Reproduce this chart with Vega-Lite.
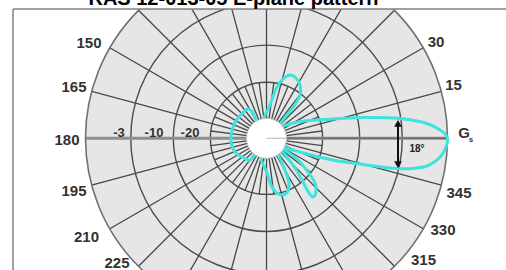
{
  "$schema": "https://vega.github.io/schema/vega-lite/v6.json",
  "width": 493,
  "height": 261,
  "autosize": {"type": "none"},
  "padding": {"left": 13, "top": 9, "right": 0, "bottom": 0},
  "background": "white",
  "config": {"view": {"stroke": null}},
  "title": {
    "text": "RAS 12-013-05 E-plane pattern",
    "font": "Liberation Sans",
    "fontSize": 20,
    "fontWeight": "bold",
    "color": "#000000",
    "frame": "group",
    "anchor": "middle",
    "offset": 2.5,
    "baseline": "alphabetic",
    "dx": -26,
    "dy": 19
  },
  "datasets": {
    "rings": [{"r": 31}, {"r": 51.5}, {"r": 75}],
    "outer": [{"r": 100}],
    "spokes": [
      {"a": 15, "r0": 11, "r1": 100}, {"a": 30, "r0": 11, "r1": 100}, {"a": 45, "r0": 11, "r1": 100},
      {"a": 60, "r0": 11, "r1": 100}, {"a": 75, "r0": 11, "r1": 100}, {"a": 90, "r0": 11, "r1": 100},
      {"a": 105, "r0": 11, "r1": 100}, {"a": 120, "r0": 11, "r1": 100}, {"a": 135, "r0": 11, "r1": 100},
      {"a": 150, "r0": 11, "r1": 100}, {"a": 165, "r0": 11, "r1": 100}, {"a": 195, "r0": 11, "r1": 100},
      {"a": 210, "r0": 11, "r1": 100}, {"a": 225, "r0": 11, "r1": 100}, {"a": 240, "r0": 11, "r1": 100},
      {"a": 255, "r0": 11, "r1": 100}, {"a": 270, "r0": 11, "r1": 100}, {"a": 285, "r0": 11, "r1": 100},
      {"a": 300, "r0": 11, "r1": 100}, {"a": 315, "r0": 11, "r1": 100}, {"a": 330, "r0": 11, "r1": 100},
      {"a": 345, "r0": 11, "r1": 100},
      {"a": 7.5, "r0": 11, "r1": 31}, {"a": 22.5, "r0": 11, "r1": 31}, {"a": 37.5, "r0": 11, "r1": 31},
      {"a": 52.5, "r0": 11, "r1": 31}, {"a": 67.5, "r0": 11, "r1": 31}, {"a": 82.5, "r0": 11, "r1": 31},
      {"a": 97.5, "r0": 11, "r1": 31}, {"a": 112.5, "r0": 11, "r1": 31}, {"a": 127.5, "r0": 11, "r1": 31},
      {"a": 142.5, "r0": 11, "r1": 31}, {"a": 157.5, "r0": 11, "r1": 31}, {"a": 172.5, "r0": 11, "r1": 31},
      {"a": 187.5, "r0": 11, "r1": 31}, {"a": 202.5, "r0": 11, "r1": 31}, {"a": 217.5, "r0": 11, "r1": 31},
      {"a": 232.5, "r0": 11, "r1": 31}, {"a": 247.5, "r0": 11, "r1": 31}, {"a": 262.5, "r0": 11, "r1": 31},
      {"a": 277.5, "r0": 11, "r1": 31}, {"a": 292.5, "r0": 11, "r1": 31}, {"a": 307.5, "r0": 11, "r1": 31},
      {"a": 322.5, "r0": 11, "r1": 31}, {"a": 337.5, "r0": 11, "r1": 31}, {"a": 352.5, "r0": 11, "r1": 31}
    ],
    "hline": [{"a": 0, "r0": 11, "r1": 100}, {"a": 180, "r0": 11, "r1": 100}],
    "pattern": [
      {"i": 1, "x": 0, "y": 0}, {"i": 2, "x": 9.67, "y": -4.81}, {"i": 3, "x": 18.51, "y": -7.57},
      {"i": 4, "x": 36.74, "y": -11.99}, {"i": 5, "x": 55.52, "y": -14.75}, {"i": 6, "x": 72.1, "y": -16.69},
      {"i": 7, "x": 80.39, "y": -16.69}, {"i": 8, "x": 88.67, "y": -15.3}, {"i": 9, "x": 96.41, "y": -9.78},
      {"i": 10, "x": 99.17, "y": -4.81}, {"i": 11, "x": 100.1, "y": -1.0}, {"i": 12, "x": 99.17, "y": 1.82},
      {"i": 13, "x": 95.86, "y": 4.59}, {"i": 14, "x": 88.67, "y": 8.18}, {"i": 15, "x": 73.76, "y": 10.94},
      {"i": 16, "x": 55.52, "y": 11.49}, {"i": 17, "x": 36.74, "y": 10.66}, {"i": 18, "x": 18.51, "y": 9.28},
      {"i": 19, "x": 9.67, "y": 6.8}, {"i": 20, "x": 0, "y": 0},
      {"i": 21, "x": -1.93, "y": 9.01}, {"i": 22, "x": 1.93, "y": 18.4}, {"i": 23, "x": 5.8, "y": 28.34},
      {"i": 24, "x": 9.12, "y": 32.76}, {"i": 25, "x": 12.98, "y": 34.97}, {"i": 26, "x": 16.3, "y": 33.31},
      {"i": 27, "x": 18.51, "y": 29.45}, {"i": 28, "x": 18.51, "y": 23.92}, {"i": 29, "x": 15.19, "y": 17.85},
      {"i": 30, "x": 10.77, "y": 12.32}, {"i": 31, "x": 6.91, "y": 7.35}, {"i": 32, "x": 0, "y": 0},
      {"i": 33, "x": -9.67, "y": 16.19}, {"i": 34, "x": -15.75, "y": 11.22}, {"i": 35, "x": -19.06, "y": 4.59},
      {"i": 36, "x": -19.61, "y": -2.04}, {"i": 37, "x": -17.4, "y": -7.57}, {"i": 38, "x": -12.98, "y": -10.61},
      {"i": 39, "x": -9.12, "y": -12.04}, {"i": 40, "x": 0, "y": 0},
      {"i": 41, "x": -3.04, "y": -10.33}, {"i": 42, "x": 0.28, "y": -19.17}, {"i": 43, "x": 2.49, "y": -25.8},
      {"i": 44, "x": 5.8, "y": -30.22}, {"i": 45, "x": 9.12, "y": -31.33}, {"i": 46, "x": 11.88, "y": -29.12},
      {"i": 47, "x": 12.43, "y": -24.7}, {"i": 48, "x": 10.22, "y": -17.51}, {"i": 49, "x": 6.35, "y": -9.23},
      {"i": 50, "x": 0, "y": 0},
      {"i": 51, "x": 10.22, "y": -9.23}, {"i": 52, "x": 15.75, "y": -16.41}, {"i": 53, "x": 20.17, "y": -24.14},
      {"i": 54, "x": 23.48, "y": -30.22}, {"i": 55, "x": 25.69, "y": -32.43}, {"i": 56, "x": 27.35, "y": -29.67},
      {"i": 57, "x": 26.8, "y": -24.7}, {"i": 58, "x": 22.93, "y": -18.62}, {"i": 59, "x": 17.4, "y": -11.99},
      {"i": 60, "x": 0, "y": 0}
    ],
    "labels": [
      {"label": "150", "x": -98.07, "y": 52.93}, {"label": "165", "x": -106.35, "y": 28.34},
      {"label": "180", "x": -110.22, "y": -0.66}, {"label": "195", "x": -106.35, "y": -29.12},
      {"label": "210", "x": -99.45, "y": -54.53}, {"label": "225", "x": -82.6, "y": -68.9},
      {"label": "30", "x": 93.65, "y": 53.2}, {"label": "15", "x": 103.31, "y": 29.45},
      {"label": "G", "x": 109.12, "y": 2.93},
      {"label": "345", "x": 106.35, "y": -30.22}, {"label": "330", "x": 97.51, "y": -50.66},
      {"label": "315", "x": 86.74, "y": -67.24}
    ],
    "ringLabels": [
      {"label": "-3", "x": -81.49, "y": 2.93}, {"label": "-10", "x": -62.15, "y": 2.93},
      {"label": "-20", "x": -42.27, "y": 2.93}
    ],
    "sub": [{"label": "s", "x": 112.98, "y": -0.94}],
    "beam": [{"label": "18°", "x": 83.15, "y": -5.91, "top": 8.23, "bottom": -14.53, "xa": 72.65}]
  },
  "layer": [
    {
      "data": {"name": "outer"},
      "mark": {"type": "arc", "fill": "#e6e6e6", "clip": true},
      "encoding": {
        "x": {"datum": 0, "type": "quantitative", "scale": {"domain": [-140.06, 132.32], "nice": false, "zero": false}, "axis": null},
        "y": {"datum": 0, "type": "quantitative", "scale": {"domain": [-72.76, 71.44], "nice": false, "zero": false}, "axis": null},
        "theta": {"datum": 0, "type": "quantitative", "scale": {"domain": [0, 360], "range": [1.5707963, -4.712389]}},
        "theta2": {"datum": 360},
        "radius": {"field": "r", "type": "quantitative", "stack": null, "scale": {"type": "linear", "domain": [0, 100], "range": [0, 181], "nice": false}}
      }
    },
    {
      "data": {"name": "rings"},
      "mark": {"type": "arc", "filled": false, "stroke": "#4d4d4d", "strokeWidth": 1.4, "clip": true},
      "encoding": {
        "x": {"datum": 0, "type": "quantitative"},
        "y": {"datum": 0, "type": "quantitative"},
        "theta": {"datum": 0, "type": "quantitative"},
        "theta2": {"datum": 360},
        "radius": {"field": "r", "type": "quantitative", "stack": null}
      }
    },
    {
      "data": {"name": "spokes"},
      "mark": {"type": "arc", "filled": false, "stroke": "#484848", "strokeWidth": 1.3, "clip": true},
      "encoding": {
        "x": {"datum": 0, "type": "quantitative"},
        "y": {"datum": 0, "type": "quantitative"},
        "theta": {"field": "a", "type": "quantitative", "stack": null},
        "theta2": {"field": "a"},
        "radius": {"field": "r1", "type": "quantitative", "stack": null},
        "radius2": {"field": "r0"}
      }
    },
    {
      "data": {"name": "hline"},
      "mark": {"type": "arc", "filled": false, "stroke": "#8e8e8e", "strokeWidth": 3, "clip": true},
      "encoding": {
        "x": {"datum": 0, "type": "quantitative"},
        "y": {"datum": 0, "type": "quantitative"},
        "theta": {"field": "a", "type": "quantitative", "stack": null},
        "theta2": {"field": "a"},
        "radius": {"field": "r1", "type": "quantitative", "stack": null},
        "radius2": {"field": "r0"}
      }
    },
    {
      "data": {"name": "outer"},
      "mark": {"type": "arc", "filled": false, "stroke": "#707070", "strokeWidth": 1.6, "clip": true},
      "encoding": {
        "x": {"datum": 0, "type": "quantitative"},
        "y": {"datum": 0, "type": "quantitative"},
        "theta": {"datum": 0, "type": "quantitative"},
        "theta2": {"datum": 360},
        "radius": {"field": "r", "type": "quantitative", "stack": null}
      }
    },
    {
      "data": {"name": "pattern"},
      "mark": {"type": "line", "stroke": "#3de3dc", "strokeWidth": 3, "interpolate": "catmull-rom", "clip": true},
      "encoding": {
        "x": {"field": "x", "type": "quantitative"},
        "y": {"field": "y", "type": "quantitative"},
        "order": {"field": "i", "type": "quantitative"}
      }
    },
    {
      "data": {"values": [{"r": 11}]},
      "mark": {"type": "arc", "fill": "#ffffff", "stroke": "#c8c8c8", "strokeWidth": 1, "clip": true},
      "encoding": {
        "x": {"datum": 0, "type": "quantitative"},
        "y": {"datum": 0, "type": "quantitative"},
        "theta": {"datum": 0, "type": "quantitative"},
        "theta2": {"datum": 360},
        "radius": {"field": "r", "type": "quantitative", "stack": null}
      }
    },
    {
      "data": {"name": "beam"},
      "mark": {"type": "rule", "stroke": "#111111", "strokeWidth": 2, "clip": true},
      "encoding": {
        "x": {"field": "xa", "type": "quantitative"},
        "y": {"field": "top", "type": "quantitative"},
        "y2": {"field": "bottom"}
      }
    },
    {
      "data": {"name": "beam"},
      "mark": {"type": "point", "shape": "triangle-up", "filled": true, "color": "#111111", "size": 60, "opacity": 1, "clip": true},
      "encoding": {
        "x": {"field": "xa", "type": "quantitative"},
        "y": {"field": "top", "type": "quantitative"}
      }
    },
    {
      "data": {"name": "beam"},
      "mark": {"type": "point", "shape": "triangle-down", "filled": true, "color": "#111111", "size": 60, "opacity": 1, "clip": true},
      "encoding": {
        "x": {"field": "xa", "type": "quantitative"},
        "y": {"field": "bottom", "type": "quantitative"}
      }
    },
    {
      "data": {"name": "beam"},
      "mark": {"type": "text", "font": "Liberation Sans", "fontSize": 10, "fontWeight": "bold", "color": "#222222", "align": "center", "baseline": "middle", "clip": true},
      "encoding": {
        "x": {"field": "x", "type": "quantitative"},
        "y": {"field": "y", "type": "quantitative"},
        "text": {"field": "label"}
      }
    },
    {
      "data": {"name": "labels"},
      "mark": {"type": "text", "font": "Liberation Sans", "fontSize": 15, "fontWeight": "bold", "color": "#333333", "align": "center", "baseline": "middle", "clip": true},
      "encoding": {
        "x": {"field": "x", "type": "quantitative"},
        "y": {"field": "y", "type": "quantitative"},
        "text": {"field": "label"}
      }
    },
    {
      "data": {"name": "sub"},
      "mark": {"type": "text", "font": "Liberation Sans", "fontSize": 8, "fontWeight": "bold", "color": "#333333", "align": "center", "baseline": "middle", "clip": true},
      "encoding": {
        "x": {"field": "x", "type": "quantitative"},
        "y": {"field": "y", "type": "quantitative"},
        "text": {"field": "label"}
      }
    },
    {
      "data": {"name": "ringLabels"},
      "mark": {"type": "text", "font": "Liberation Sans", "fontSize": 13, "fontWeight": "bold", "color": "#333333", "align": "center", "baseline": "middle", "clip": true},
      "encoding": {
        "x": {"field": "x", "type": "quantitative"},
        "y": {"field": "y", "type": "quantitative"},
        "text": {"field": "label"}
      }
    },
    {
      "data": {"values": [{"x0": -140.06, "y0": 71.44, "y1": -72.76, "x1": 132.32}]},
      "mark": {"type": "rule", "stroke": "#808080", "strokeWidth": 1.5},
      "encoding": {
        "x": {"field": "x0", "type": "quantitative"},
        "y": {"field": "y0", "type": "quantitative"},
        "y2": {"field": "y1"}
      }
    },
    {
      "data": {"values": [{"x0": -140.06, "y0": 71.44, "y1": -72.76, "x1": 132.32}]},
      "mark": {"type": "rule", "stroke": "#808080", "strokeWidth": 1.5},
      "encoding": {
        "x": {"field": "x0", "type": "quantitative"},
        "x2": {"field": "x1"},
        "y": {"field": "y0", "type": "quantitative"}
      }
    }
  ]
}
